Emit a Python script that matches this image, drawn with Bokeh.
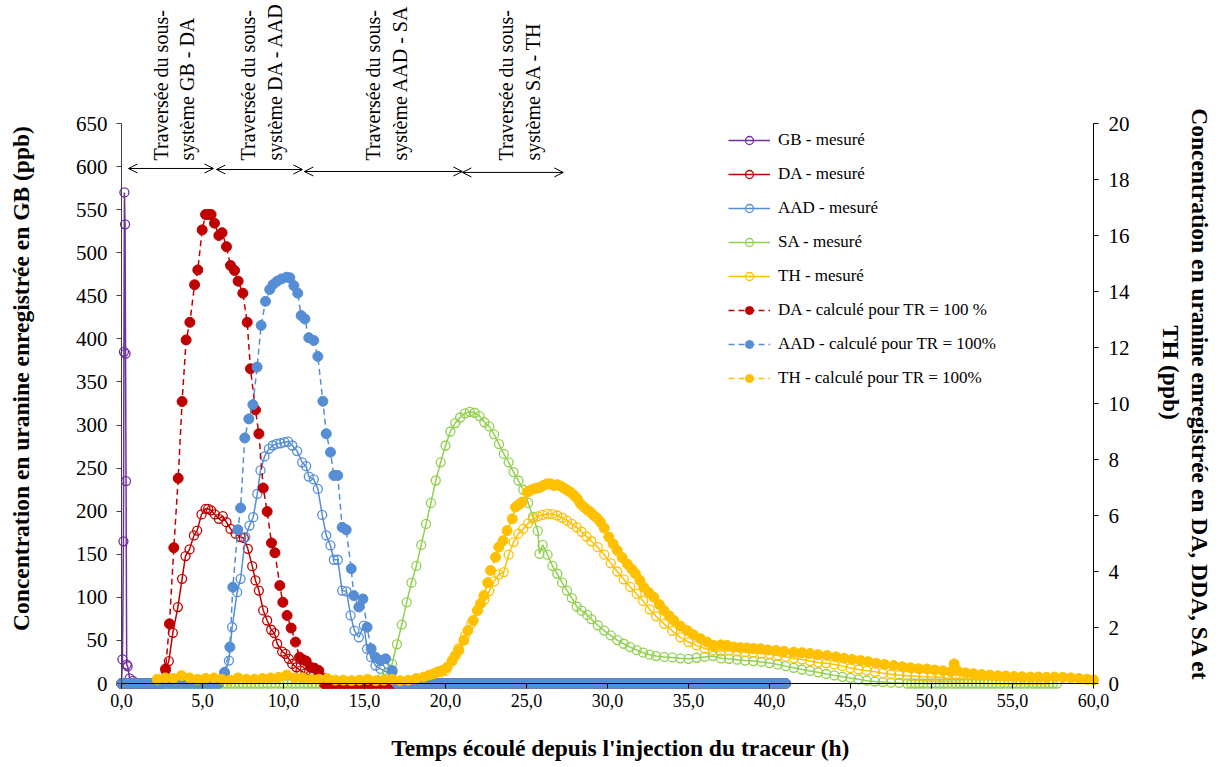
import numpy as np
from math import pi
from bokeh.plotting import figure
from bokeh.models import (Range1d, LinearAxis, FixedTicker, Legend, LegendItem,
                          Label, Arrow, OpenHead)
from bokeh.embed import file_html
from bokeh.resources import INLINE

# ---------------- data ----------------
X_TICKS = [0, 5, 10, 15, 20, 25, 30, 35, 40, 45, 50, 55, 60]
X_TICK_LABELS = ["0,0", "5,0", "10,0", "15,0", "20,0", "25,0", "30,0",
                 "35,0", "40,0", "45,0", "50,0", "55,0", "60,0"]
Y_LEFT_TICKS = [0, 50, 100, 150, 200, 250, 300, 350, 400, 450, 500, 550, 600, 650]
Y_RIGHT_TICKS = [0, 2, 4, 6, 8, 10, 12, 14, 16, 18, 20]

# GB measured (left axis, ppb)
GB_T = [0.0, 0.06, 0.12, 0.15, 0.18, 0.22, 0.25, 0.28, 0.32, 0.38, 0.5, 0.7, 1.0]
GB_V = [0, 28, 165, 385, 570, 533, 383, 235, 22, 20, 6, 3, 0]

# right-axis series (ppb)
DA_MEAS_T = [2.72, 2.92, 3.17, 3.48, 3.74, 3.95, 4.2, 4.47, 4.67, 4.94, 5.19, 5.35, 5.53,
             5.76, 6.01, 6.25, 6.48, 6.73, 7.04, 7.35, 7.55, 7.8, 8.07, 8.27, 8.48, 8.75,
             8.99, 9.24, 9.44, 9.61, 9.92, 10.12, 10.33, 10.54, 10.8, 11.05, 11.35, 11.65]
DA_MEAS_V = [0.46, 0.8, 1.81, 2.73, 3.74, 4.55, 4.79, 5.29, 5.46, 6.04, 6.24, 6.24, 6.18,
             6.04, 5.88, 5.98, 5.76, 5.52, 5.35, 5.23, 5.2, 4.81, 4.19, 3.68, 3.32, 2.61,
             2.25, 1.92, 1.8, 1.42, 1.14, 1.06, 0.88, 0.7, 0.58, 0.46, 0.36, 0.28]

AAD_MEAS_T = [6.36, 6.63, 6.83, 7.14, 7.35, 7.65, 7.9, 8.13, 8.38, 8.58, 8.83, 9.1, 9.34,
              9.57, 9.81, 10.06, 10.29, 10.54, 10.84, 11.15, 11.4, 11.56, 11.87, 12.12,
              12.39, 12.64, 12.9, 13.11, 13.35, 13.62, 13.89, 14.14, 14.38, 14.65, 14.96,
              15.16, 15.41, 15.68, 15.99, 16.4, 16.7]
AAD_MEAS_V = [0.35, 0.82, 2.01, 3.26, 3.74, 5.23, 5.64, 5.94, 6.77, 7.61, 8.11, 8.38, 8.5,
              8.56, 8.58, 8.62, 8.64, 8.5, 8.3, 7.9, 7.76, 7.39, 7.29, 6.95, 6.02, 5.29,
              4.93, 4.42, 4.42, 3.32, 3.29, 2.43, 1.89, 1.65, 2.07, 1.24, 0.94, 0.64,
              0.52, 0.4, 0.4]

SA_MEAS_T = [15.8, 16.1, 16.4, 16.7, 17.0, 17.3, 17.6, 17.9, 18.2, 18.5, 18.8, 19.1, 19.4,
             19.7, 20.0, 20.3, 20.6, 20.9, 21.2, 21.5, 21.8, 22.1, 22.4, 22.7, 23.0, 23.3,
             23.6, 23.9, 24.2, 24.5, 24.8, 25.1, 25.4, 25.7, 25.8, 26.0, 26.3, 26.6, 26.9,
             27.2, 27.5, 27.8, 28.1, 28.4, 28.75, 29.0, 29.4, 29.8, 30.2, 30.6, 31.0,
             31.4, 31.8, 32.2, 32.6, 33.0, 33.5, 34.0, 34.5, 35.0, 35.5, 36.0, 36.5,
             37.0, 37.5, 38.0, 38.5, 39.0, 39.5, 40.0, 40.5, 41.0, 41.5, 42.0, 42.5,
             43.0, 43.5, 44.0, 44.5, 45.0, 45.5, 46.0, 46.5, 47.0, 47.5, 48.0]
SA_MEAS_V = [0.1, 0.2, 0.35, 0.7, 1.4, 2.1, 2.9, 3.6, 4.2, 4.95, 5.7, 6.45, 7.25,
             7.9, 8.5, 9.0, 9.3, 9.5, 9.65, 9.7, 9.67, 9.55, 9.33, 9.18, 8.9, 8.55,
             8.2, 7.9, 7.55, 7.25, 6.92, 6.45, 5.95, 5.45, 4.63, 4.95, 4.6, 4.2, 3.92,
             3.6, 3.32, 3.05, 2.75, 2.6, 2.45, 2.3, 2.08, 1.89, 1.72, 1.55, 1.42,
             1.3, 1.19, 1.1, 1.03, 0.98, 0.95, 0.93, 0.9, 0.88, 0.92, 0.95, 0.98,
             0.9, 0.88, 0.85, 0.82, 0.8, 0.77, 0.73, 0.68, 0.62, 0.56, 0.5, 0.45,
             0.4, 0.34, 0.29, 0.24, 0.2, 0.15, 0.1, 0.07, 0.05, 0.03, 0.02]

TH_MEAS_T = [19.0, 19.5, 20.0, 20.4, 20.8, 21.2, 21.6, 22.0, 22.4, 22.7, 23.0, 23.3, 23.6,
             23.9, 24.2, 24.5, 24.8, 25.1, 25.4, 25.7, 26.0, 26.3, 26.6, 26.9, 27.2, 27.5,
             27.8, 28.1, 28.4, 28.7, 29.0, 29.4, 29.8, 30.2, 30.6, 31.0, 31.4, 31.8, 32.2,
             32.6, 33.0, 33.5, 34.0, 34.5, 35.0, 35.5, 36.0, 36.5, 37.0, 37.5, 38.0, 38.5,
             39.0, 39.5, 40.0, 40.5, 41.0, 41.5, 42.0, 42.5, 43.0, 43.5, 44.0, 44.5, 45.0,
             45.5, 46.0, 46.5, 47.0, 47.5, 48.0, 48.5, 49.0, 49.5, 50.0, 50.5, 51.0, 51.5,
             52.0, 52.5, 53.0, 53.5, 54.0, 54.5, 55.0, 55.5, 56.0, 56.5, 57.0]
TH_MEAS_V = [0.15, 0.25, 0.45, 0.8, 1.25, 1.7, 2.15, 2.6, 3.0, 3.3, 3.65, 3.9, 3.98,
             4.6, 5.05, 5.35, 5.52, 5.72, 5.88, 5.97, 6.02, 6.06, 6.05, 6.0, 5.92, 5.82,
             5.7, 5.58, 5.42, 5.25, 5.08, 4.87, 4.6, 4.3, 4.0, 3.72, 3.45, 3.2, 2.95,
             2.65, 2.4, 2.13, 1.88, 1.65, 1.48, 1.36, 1.25, 1.18, 1.15, 1.18, 1.15, 1.12,
             1.1, 1.07, 1.05, 1.0, 0.95, 0.9, 0.86, 0.8, 0.75, 0.72, 0.68, 0.62, 0.55,
             0.5, 0.46, 0.42, 0.37, 0.33, 0.3, 0.28, 0.26, 0.24, 0.23, 0.22, 0.2, 0.19,
             0.17, 0.16, 0.15, 0.14, 0.13, 0.12, 0.12, 0.11, 0.1, 0.1, 0.1]

DA_CALC_T = [2.72, 2.96, 3.23, 3.5, 3.74, 3.99, 4.22, 4.51, 4.71, 4.98, 5.19, 5.39, 5.53,
             5.74, 6.01, 6.21, 6.48, 6.73, 6.98, 7.2, 7.49, 7.76, 7.96, 8.27, 8.48, 8.75,
             8.99, 9.26, 9.47, 9.77, 9.96, 10.22, 10.47, 10.74, 10.99, 11.2, 11.4, 11.67,
             11.9, 12.18, 12.4]
DA_CALC_V = [0.52, 2.13, 4.85, 7.33, 10.07, 12.27, 12.9, 14.24, 14.77, 16.2, 16.75, 16.75,
             16.75, 16.44, 16.0, 16.1, 15.6, 14.93, 14.75, 14.37, 13.94, 12.9, 11.24, 9.77,
             8.92, 6.98, 6.14, 5.02, 4.67, 3.5, 2.9, 2.43, 1.98, 1.48, 0.94, 0.85, 0.8,
             0.58, 0.55, 0.46, 0.2]

AAD_CALC_T = [6.36, 6.69, 6.87, 7.18, 7.35, 7.61, 7.86, 8.11, 8.37, 8.62, 8.89, 9.15, 9.36,
              9.61, 9.88, 10.19, 10.39, 10.64, 10.88, 11.09, 11.32, 11.56, 11.87, 12.12,
              12.43, 12.64, 12.9, 13.11, 13.35, 13.62, 13.87, 14.18, 14.34, 14.65, 14.9,
              15.16, 15.41, 15.68, 15.99, 16.3, 16.71]
AAD_CALC_V = [0.4, 1.3, 3.44, 5.49, 6.27, 8.77, 9.45, 9.96, 11.3, 12.79, 13.65, 14.07,
              14.25, 14.37, 14.45, 14.51, 14.49, 14.21, 13.94, 13.14, 13.02, 12.35, 12.25,
              11.68, 10.08, 8.92, 8.26, 7.43, 7.43, 5.58, 5.49, 4.1, 3.14, 2.73, 3.02,
              2.01, 1.24, 0.94, 0.82, 0.88, 0.46]

TH_CALC_T = [2.2, 2.7, 3.2, 3.7, 4.2, 4.7, 5.2, 5.7, 6.2, 6.7, 7.2, 7.7, 8.2, 8.7, 9.2,
             9.7, 10.2, 10.7, 11.2, 11.7, 12.2, 12.7, 13.2, 13.7, 14.2, 14.7, 15.2, 15.7,
             16.2, 16.7, 17.2, 17.7, 18.2, 18.66, 19.0, 19.28, 19.55, 19.8, 20.1, 20.41,
             20.6, 20.82, 21.13, 21.38, 21.71, 21.96, 22.16, 22.37, 22.6, 22.78, 23.09,
             23.29, 23.55, 23.8, 24.12, 24.32, 24.55, 24.73, 25.04, 25.25, 25.45, 25.66,
             25.86, 26.07, 26.28, 26.48, 26.69, 26.9, 27.1, 27.3, 27.52, 27.72, 27.93,
             28.13, 28.33, 28.55, 28.75, 28.95, 29.15, 29.36, 29.57, 29.8, 30.08, 30.35,
             30.6, 30.9, 31.22, 31.5, 31.73, 32.0, 32.24, 32.55, 32.86, 33.2, 33.48, 33.8,
             34.1, 34.5, 34.92, 35.3, 35.74, 36.15, 36.56, 37.0, 37.39, 37.8, 38.2, 38.6,
             39.0, 39.44, 39.9, 40.4, 40.9, 41.5, 42.0, 42.5, 43.0, 43.56, 44.1, 44.6,
             45.1, 45.62, 46.1, 46.6, 47.1, 47.67, 48.2, 48.7, 49.2, 49.73, 50.2, 50.7,
             51.2, 51.4, 51.6, 52.1, 52.6, 53.1, 53.6, 54.1, 54.6, 55.1, 55.6, 56.1, 56.6,
             57.1, 57.6, 58.1, 58.6, 59.1, 59.6, 60.0]
TH_CALC_V = [0.15, 0.2, 0.18, 0.28, 0.2, 0.15, 0.18, 0.2, 0.15, 0.12, 0.2, 0.15, 0.15,
             0.18, 0.2, 0.22, 0.3, 0.2, 0.2, 0.15, 0.15, 0.18, 0.12, 0.12, 0.1, 0.12, 0.15,
             0.1, 0.12, 0.15, 0.1, 0.12, 0.18, 0.23, 0.3, 0.35, 0.42, 0.46, 0.58, 0.82,
             1.0, 1.18, 1.54, 1.89, 2.25, 2.61, 2.85, 3.14, 3.6, 4.04, 4.51, 4.87, 5.1,
             5.46, 5.88, 6.3, 6.4, 6.48, 6.83, 6.9, 6.95, 6.98, 7.01, 7.08, 7.13, 7.13,
             7.07, 7.1, 7.05, 6.98, 6.9, 6.83, 6.72, 6.6, 6.42, 6.3, 6.2, 6.12, 6.0, 5.9,
             5.76, 5.55, 5.23, 4.98, 4.75, 4.5, 4.27, 4.08, 3.92, 3.68, 3.44, 3.25, 3.08,
             2.82, 2.61, 2.42, 2.25, 2.05, 1.89, 1.74, 1.6, 1.48, 1.36, 1.38, 1.36, 1.3,
             1.28, 1.27, 1.25, 1.24, 1.2, 1.18, 1.15, 1.12, 1.1, 1.07, 1.03, 1.0, 0.95,
             0.9, 0.86, 0.82, 0.78, 0.72, 0.68, 0.64, 0.6, 0.56, 0.53, 0.52, 0.48, 0.45,
             0.42, 0.7, 0.45, 0.38, 0.35, 0.32, 0.3, 0.28, 0.27, 0.25, 0.24, 0.23, 0.23,
             0.22, 0.23, 0.22, 0.2, 0.18, 0.15, 0.13]

# zero-valued baseline stretches (start h, end h) sampled every BASE_STEP hours
BASE_STEP = 0.25
DA_CALC_ZERO_SPANS = [(0.0, 2.5), (12.5, 41.2)]
AAD_CALC_ZERO_SPANS = [(0.0, 6.1), (17.0, 41.2)]
SA_MEAS_ZERO_SPANS = [(0.0, 15.5), (48.5, 57.9)]

LEGEND_LABELS = ["GB - mesuré", "DA - mesuré", "AAD - mesuré", "SA - mesuré", "TH - mesuré",
                 "DA - calculé pour TR = 100 %", "AAD - calculé pour TR = 100%",
                 "TH - calculé pour TR = 100%"]
ZONE_LINE1 = ["Traversée du sous-"] * 4
ZONE_LINE2 = ["système GB - DA", "système DA - AAD", "système AAD - SA", "système SA - TH"]
ZONE_BOUNDS = [(0.43, 5.68), (5.86, 11.17), (11.29, 21.04), (21.04, 27.27)]

# ---------------- helpers ----------------
def with_zeros(t, v, spans):
    tt, vv = list(t), list(v)
    for a, b in spans:
        for x in np.arange(a, b + 1e-9, BASE_STEP):
            tt.append(round(float(x), 3))
            vv.append(0.0)
    order = np.argsort(tt, kind="stable")
    return [tt[i] for i in order], [vv[i] for i in order]

PURPLE = "#7030A0"
RED = "#C00000"
BLUE = "#558ED5"
GREEN = "#92D050"
YELLOW = "#FFC000"
SERIF = "Liberation Serif"

W, H = 1217, 765
PX_X0, PX_PER_H = 121.0, 16.2          # canvas x of t=0, pixels per hour
PX_Y0, PX_PER_U = 683.0, 560.0 / 650   # canvas y of 0 ppb, pixels per left unit
RSCALE = 650 / 20.0

x_lo = -PX_X0 / PX_PER_H
x_hi = (W - PX_X0) / PX_PER_H
y_lo = -(H - PX_Y0) / PX_PER_U
y_hi = PX_Y0 / PX_PER_U

p = figure(width=W, height=H, min_border=0,
           x_range=Range1d(x_lo, x_hi), y_range=Range1d(y_lo, y_hi),
           output_backend="svg", toolbar_location=None)
p.extra_y_ranges = {"r": Range1d(y_lo / RSCALE, y_hi / RSCALE)}
p.grid.visible = False
p.outline_line_color = None
p.background_fill_color = "white"
p.border_fill_color = "white"

def style_axis(ax, size, standoff):
    ax.major_label_text_font = SERIF
    ax.major_label_text_font_size = size
    ax.major_label_text_color = "black"
    ax.major_tick_in = 0
    ax.major_tick_out = 5
    ax.minor_tick_in = 0
    ax.minor_tick_out = 0
    ax.major_label_standoff = standoff

xa = p.xaxis[0]
xa.ticker = FixedTicker(ticks=X_TICKS)
xa.major_label_overrides = {k: s for k, s in zip(X_TICKS, X_TICK_LABELS)}
xa.fixed_location = 0
xa.bounds = (0, 60)
xa.axis_line_color = "black"
xa.major_tick_line_color = "black"
style_axis(xa, "18px", 5)

ya = p.yaxis[0]
ya.ticker = FixedTicker(ticks=Y_LEFT_TICKS)
ya.fixed_location = 0
ya.bounds = (0, 650)
ya.axis_line_color = "#404040"
ya.major_tick_line_color = "#404040"
style_axis(ya, "21px", 9)

ra = LinearAxis(y_range_name="r", ticker=FixedTicker(ticks=Y_RIGHT_TICKS))
ra.fixed_location = 60
ra.bounds = (0, 20)
ra.axis_line_color = "black"
ra.major_tick_line_color = "black"
style_axis(ra, "21px", 10)
p.add_layout(ra, "right")

renderers = []

def series(t, v, color, filled, dashed, rng="default"):
    kw = {} if rng == "default" else {"y_range_name": rng}
    ln = p.line(t, v, line_color=color, line_width=1.5,
                line_dash="6 4" if dashed else "solid", **kw)
    if filled:
        sc = p.scatter(t, v, marker="circle", size=10, fill_color=color,
                       line_color=color, line_width=1, **kw)
    else:
        sc = p.scatter(t, v, marker="circle", size=9, fill_color=None,
                       line_color=color, line_width=1.3, **kw)
    renderers.append([ln, sc])

series(GB_T, GB_V, PURPLE, False, False)
series(DA_MEAS_T, DA_MEAS_V, RED, False, False, "r")
series(AAD_MEAS_T, AAD_MEAS_V, BLUE, False, False, "r")
sa_t, sa_v = with_zeros(SA_MEAS_T, SA_MEAS_V, SA_MEAS_ZERO_SPANS)
series(sa_t, sa_v, GREEN, False, False, "r")
series(TH_MEAS_T, TH_MEAS_V, YELLOW, False, False, "r")
da_t, da_v = with_zeros(DA_CALC_T, DA_CALC_V, DA_CALC_ZERO_SPANS)
series(da_t, da_v, RED, True, True, "r")
aad_t, aad_v = with_zeros(AAD_CALC_T, AAD_CALC_V, AAD_CALC_ZERO_SPANS)
series(aad_t, aad_v, BLUE, True, True, "r")
series(TH_CALC_T, TH_CALC_V, YELLOW, True, True, "r")

legend = Legend(items=[LegendItem(label=lab, renderers=r) for lab, r in zip(LEGEND_LABELS, renderers)],
                location=(728, H - 388), orientation="vertical",
                glyph_width=42, glyph_height=20, label_height=20, spacing=14,
                label_standoff=8, padding=0, margin=0,
                border_line_color=None, background_fill_alpha=0,
                label_text_font=SERIF, label_text_font_size="17px",
                label_text_color="black")
p.add_layout(legend)

def tx(px):
    return (px - PX_X0) / PX_PER_H

def ty(py):
    return (PX_Y0 - py) / PX_PER_U

# zone arrows and labels
zone_arrow_y = [597.8, 596.6, 594.3, 593.2]
zone_text_px = [(160, 186), (247, 274), (372, 399), (505, 532)]
for (a, b), ay, (x1, x2), l1, l2 in zip(ZONE_BOUNDS, zone_arrow_y, zone_text_px, ZONE_LINE1, ZONE_LINE2):
    p.add_layout(Arrow(start=OpenHead(size=9, line_width=1, line_color="black"),
                       end=OpenHead(size=9, line_width=1, line_color="black"),
                       x_start=a, y_start=ay, x_end=b, y_end=ay,
                       line_width=1, line_color="black"))
    for xx, txt in ((x1, l1), (x2, l2)):
        p.add_layout(Label(x=tx(xx), y=ty(160), text=txt, angle=pi / 2,
                           text_align="left", text_baseline="middle",
                           text_font=SERIF, text_font_size="20px", text_color="black"))

def title(text, px, py, angle):
    p.add_layout(Label(x=tx(px), y=ty(py), text=text, angle=angle,
                       text_align="center", text_baseline="middle",
                       text_font=SERIF, text_font_size="23.5px", text_font_style="bold",
                       text_color="black"))

title("Concentration en uranine enregistrée en GB (ppb)", 20, 378, pi / 2)
title("Concentration en uranine enregistrée en DA, DDA, SA et", 1199, 394, -pi / 2)
title("TH (ppb)", 1170, 372, -pi / 2)
title("Temps écoulé depuis l'injection du traceur (h)", 620, 747, 0)

open("out.html", "w").write(file_html(p, INLINE))
